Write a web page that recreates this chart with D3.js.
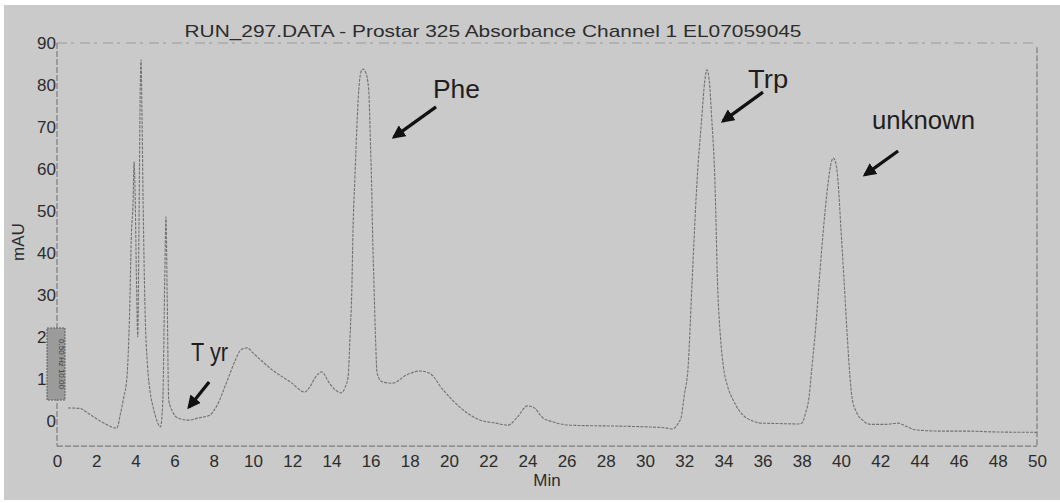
<!DOCTYPE html>
<html>
<head>
<meta charset="utf-8">
<script src="https://cdn.jsdelivr.net/npm/d3@7"></script>
<style>
  body { margin: 0; background: #fff; }
  svg { display: block; font-family: "Liberation Sans", Arial, sans-serif; }
</style>
</head>
<body>
<svg id="chart"></svg>
<script>
// Chromatogram trace (time in min, absorbance in mAU)
const minutes = [0.56, 1.17, 1.6, 2.2, 2.6, 3.05, 3.25, 3.4, 3.57, 3.7, 3.8, 3.88, 3.93, 3.98, 4.05, 4.12, 4.18, 4.25, 4.29, 4.33,
  4.4, 4.5, 4.62, 4.75, 4.92, 5.1, 5.28, 5.4, 5.5, 5.56, 5.62, 5.7, 5.9, 6.17, 6.7, 7.2, 7.8, 8.05, 8.3, 8.55,
  8.8, 9.1, 9.4, 9.7, 10.0, 10.4, 11.0, 11.9, 12.65, 12.9, 13.2, 13.5, 13.9, 14.2, 14.5, 14.7, 14.85, 14.95, 15.05, 15.1,
  15.2, 15.3, 15.4, 15.5, 15.6, 15.75, 15.9, 16.0, 16.05, 16.1, 16.17, 16.25, 16.33, 16.6, 17.1, 17.85, 18.5, 19.0, 19.7, 20.6,
  21.6, 22.4, 23.0, 23.5, 24.0, 24.3, 24.8, 25.3, 26.2, 28.4, 30.1, 31.0, 31.4, 31.7, 31.85, 32.0, 32.2, 32.4, 32.65, 32.9,
  33.05, 33.16, 33.28, 33.4, 33.57, 33.7, 33.85, 34.0, 34.2, 34.5, 34.8, 35.1, 35.5, 35.9, 36.8, 37.75, 38.0, 38.2, 38.37, 38.5,
  38.7, 38.9, 39.1, 39.35, 39.5, 39.6, 39.7, 39.85, 40.0, 40.15, 40.3, 40.45, 40.56, 40.8, 41.1, 41.5, 42.3, 42.9, 43.3, 43.8,
  45.0, 46.4, 47.8, 50.0];
const absorbance = [3.1, 3.0, 1.8, 0.0, -1.0, -1.7, 2, 5.5, 10.5, 25, 45, 52, 61.7, 55, 35, 20, 45, 80, 86, 75,
  50, 25, 13, 7, 3, 0, -1.4, 5, 35, 48.6, 30, 5, 2.2, 0.7, 0.2, 0.7, 1.4, 2.8, 5, 8,
  11, 14.5, 17, 17.4, 16.2, 14.5, 12.1, 9.3, 6.9, 8.1, 10.5, 11.7, 9.0, 7.4, 6.7, 8, 10.5, 20, 32.9, 45,
  58, 70, 79, 83, 83.8, 83, 79, 65, 56.7, 45, 32.9, 20, 11.4, 9.3, 9.0, 11, 11.9, 11.4, 7.4, 3.1,
  0.2, -0.5, -1, 1, 3.6, 3.3, 0.7, -0.2, -1, -1.2, -1.4, -1.6, -1.9, -0.5, 1, 6, 12.9, 32.9, 56.7, 72.4,
  81, 83.6, 81, 72.4, 56.7, 32.9, 20, 12.9, 8.5, 5, 2.5, 1, 0, -0.5, -0.6, -0.7, -0.5, 2, 5.7, 12,
  21.7, 34, 45.5, 57, 61.5, 62.6, 62, 57, 45.5, 34, 21.7, 11, 5.7, 2, 0.2, -0.8, -0.8, -0.5, -1.2, -2.1,
  -2.4, -2.4, -2.6, -2.7];

const xTicks = d3.range(0, 51, 2);
const yTicks = d3.range(0, 91, 10);

// hand-written peak notes: label anchor, arrow tail and arrow tip (in min / mAU)
const peakNames = ["T yr", "Phe", "Trp", "unknown"];
const labelPos = [[6.84, 14.3], [19.18, 76.9], [35.26, 79.3], [41.58, 69.5]];
const arrowTail = [[7.76, 9.3], [19.34, 74.8], [36.02, 78.3], [42.91, 64.3]];
const arrowTip = [[6.73, 3.3], [17.19, 67.6], [33.98, 71.4], [41.22, 58.6]];

const width = 1060, height = 503;
const labelWidths = [37, 47, 40, 103];

const svg = d3.select("#chart").attr("width", width).attr("height", height);

svg.append("rect")
  .attr("x", 4).attr("y", 5)
  .attr("width", width - 4).attr("height", 495)
  .attr("fill", "#cacaca");

const x = d3.scaleLinear().domain([0, 50]).range([57, 1037]);
const y = d3.scaleLinear().domain([-6, 90]).range([446.2, 43]);

// faded frame, like the scanned print
const frame = svg.append("g")
  .attr("fill", "none")
  .attr("stroke", "#7c7c7c")
  .attr("stroke-width", 1.2)
  .attr("stroke-dasharray", "6,2");
frame.append("line").attr("x1", x(0)).attr("x2", x(0)).attr("y1", y(90)).attr("y2", y(-6));
frame.append("line").attr("x1", x(0)).attr("x2", x(50)).attr("y1", y(-6)).attr("y2", y(-6));
frame.append("line").attr("x1", x(50)).attr("x2", x(50)).attr("y1", y(89)).attr("y2", y(-6));
frame.append("line").attr("x1", x(0)).attr("x2", x(50)).attr("y1", y(90)).attr("y2", y(90))
  .attr("stroke-opacity", 0.6).attr("stroke-dasharray", "10,4,3,6");

// axes (labels only, the lines are drawn above)
const xAxis = svg.append("g")
  .attr("transform", `translate(0,${y(-6)})`)
  .call(d3.axisBottom(x).tickValues(xTicks).tickSize(0).tickPadding(9).tickFormat(d3.format("d")));
const yAxis = svg.append("g")
  .attr("transform", `translate(${x(0)},0)`)
  .call(d3.axisLeft(y).tickValues(yTicks).tickSize(0).tickPadding(1).tickFormat(d3.format("d")));
[xAxis, yAxis].forEach(a => {
  a.select(".domain").remove();
  a.selectAll("text")
    .attr("fill", "#2c2c2c")
    .style("font-size", "17px")
    .style("font-family", "'Liberation Sans', Arial, sans-serif");
});

// filter settings box stamped over the y labels
svg.append("rect")
  .attr("x", 47).attr("y", 328).attr("width", 18).attr("height", 72)
  .attr("fill", "#9b9b9b").attr("stroke", "#5e5e5e").attr("stroke-width", 1)
  .attr("stroke-dasharray", "2,1");
svg.append("text")
  .attr("transform", "translate(59,364) rotate(90)")
  .attr("text-anchor", "middle")
  .attr("fill", "#3e3e3e")
  .style("font-size", "8px")
  .text("0.50 Hz 10.00");

// trace
const line = d3.line()
  .x((d, i) => x(minutes[i]))
  .y(d => y(d))
  .curve(d3.curveMonotoneX);

svg.append("path")
  .datum(absorbance)
  .attr("fill", "none")
  .attr("stroke", "#727272")
  .attr("stroke-width", 1.1)
  .attr("stroke-dasharray", "3,1.2")
  .attr("d", line);

// titles
svg.append("text")
  .attr("x", 493).attr("y", 37)
  .attr("text-anchor", "middle")
  .attr("fill", "#2c2c2c")
  .attr("textLength", 617).attr("lengthAdjust", "spacingAndGlyphs")
  .style("font-size", "17px")
  .text("RUN_297.DATA - Prostar 325 Absorbance Channel 1 EL07059045");

svg.append("text")
  .attr("x", (x(0) + x(50)) / 2).attr("y", 486)
  .attr("text-anchor", "middle")
  .attr("fill", "#2c2c2c")
  .style("font-size", "17px")
  .text("Min");

svg.append("text")
  .attr("transform", "translate(24,242) rotate(-90)")
  .attr("text-anchor", "middle")
  .attr("fill", "#2c2c2c")
  .style("font-size", "17px")
  .text("mAU");

// peak notes
svg.append("defs").append("marker")
  .attr("id", "head")
  .attr("viewBox", "0 0 10 10")
  .attr("refX", 8).attr("refY", 5)
  .attr("markerWidth", 4.2).attr("markerHeight", 4.2)
  .attr("markerUnits", "strokeWidth")
  .attr("orient", "auto")
  .append("path")
  .attr("d", "M0,0L10,5L0,10Z")
  .attr("fill", "#111");

const notes = svg.append("g");
peakNames.forEach((name, i) => {
  notes.append("text")
    .attr("x", x(labelPos[i][0])).attr("y", y(labelPos[i][1]))
    .attr("fill", "#1e1e1e")
    .attr("textLength", labelWidths[i]).attr("lengthAdjust", "spacingAndGlyphs")
    .style("font-size", "25px")
    .text(name);
  notes.append("line")
    .attr("x1", x(arrowTail[i][0])).attr("y1", y(arrowTail[i][1]))
    .attr("x2", x(arrowTip[i][0])).attr("y2", y(arrowTip[i][1]))
    .attr("stroke", "#111")
    .attr("stroke-width", 3.2)
    .attr("marker-end", "url(#head)");
});
</script>
</body>
</html>
